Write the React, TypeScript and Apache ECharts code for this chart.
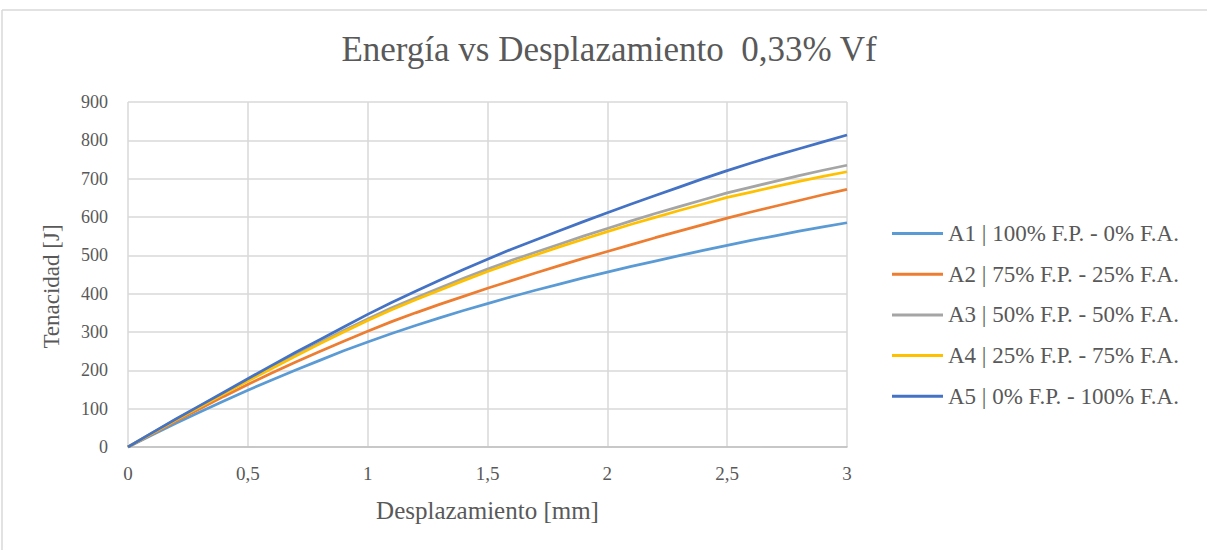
import React, { useEffect, useRef } from "react";
import * as echarts from "echarts";

const displacement = [
  0, 0.1, 0.2, 0.3, 0.4, 0.5, 0.6, 0.7, 0.8, 0.9, 1.0, 1.1, 1.2, 1.3, 1.4, 1.5,
  1.6, 1.7, 1.8, 1.9, 2.0, 2.1, 2.2, 2.3, 2.4, 2.5, 2.6, 2.7, 2.8, 2.9, 3.0,
];

const seriesNames = [
  "A1 | 100% F.P. - 0% F.A.",
  "A2 | 75% F.P. - 25% F.A.",
  "A3 | 50% F.P. - 50% F.A.",
  "A4 | 25% F.P. - 75% F.A.",
  "A5 | 0% F.P. - 100% F.A.",
];

const a1 = [0, 31, 62, 91, 120, 148, 175, 201, 226, 251, 274, 296, 317, 337, 356, 374, 392, 409, 425, 441, 456, 471, 485, 499, 513, 526, 539, 551, 563, 574, 585];
const a2 = [0, 34, 68, 100, 132, 163, 193, 222, 249, 276, 302, 327, 350, 372, 393, 414, 434, 454, 473, 492, 510, 528, 546, 563, 580, 597, 613, 628, 643, 658, 672];
const a3 = [0, 36, 72, 107, 141, 174, 208, 240, 272, 304, 334, 363, 389, 415, 440, 464, 487, 508, 529, 550, 570, 590, 609, 627, 645, 663, 678, 693, 708, 722, 735];
const a4 = [0, 36, 71, 105, 139, 172, 205, 237, 269, 300, 330, 358, 384, 409, 434, 458, 480, 501, 522, 542, 562, 581, 599, 617, 634, 651, 665, 679, 693, 706, 718];
const a5 = [0, 37, 73, 108, 143, 178, 213, 247, 280, 313, 346, 377, 406, 435, 463, 490, 516, 540, 564, 588, 611, 634, 656, 678, 700, 721, 741, 760, 778, 796, 814];

const seriesValues = [a1, a2, a3, a4, a5];
const colors = ["#5B9BD5", "#ED7D31", "#A5A5A5", "#FFC000", "#4472C4"];

const FONT = "'Liberation Serif', 'Times New Roman', serif";
const TXT = "#595959";

export default function App() {
  const ref = useRef<HTMLDivElement>(null);
  useEffect(() => {
    if (!ref.current) return;
    const chart = echarts.init(ref.current, null, { renderer: "svg" });
    const fmt = (v: number) => String(v).replace(".", ",");
    chart.setOption({
      animation: false,
      backgroundColor: "#ffffff",
      textStyle: { fontFamily: FONT, color: TXT },
      title: {
        text: "Energía vs Desplazamiento  0,33% Vf",
        left: 609,
        textAlign: "center",
        top: 32,
        padding: 0,
        textStyle: { fontFamily: FONT, fontSize: 35, fontWeight: "normal", color: TXT },
      },
      graphic: [
        { type: "line", shape: { x1: 2, y1: 10, x2: 1207, y2: 10 }, style: { stroke: "#d9d9d9", lineWidth: 1.5 } },
        { type: "line", shape: { x1: 2, y1: 10, x2: 2, y2: 550 }, style: { stroke: "#d9d9d9", lineWidth: 1.5 } },
      ],
      legend: {
        orient: "vertical",
        left: 892,
        top: 222,
        padding: 0,
        itemGap: 17.7,
        itemWidth: 51,
        itemHeight: 3,
        icon: "rect",
        data: seriesNames,
        textStyle: { fontFamily: FONT, fontSize: 23, lineHeight: 23, color: TXT },
      },
      grid: { left: 128, right: 360, top: 102, bottom: 103, containLabel: false },
      xAxis: {
        type: "value",
        min: 0,
        max: 3,
        interval: 0.5,
        name: "Desplazamiento [mm]",
        nameLocation: "middle",
        nameGap: 51,
        nameTextStyle: { fontFamily: FONT, fontSize: 25, color: TXT },
        axisLine: { show: true, lineStyle: { color: "#bfbfbf", width: 1.5 } },
        axisTick: { show: false },
        axisLabel: { formatter: fmt, fontFamily: FONT, fontSize: 19, color: TXT, margin: 17 },
        splitLine: { show: true, lineStyle: { color: "#d9d9d9", width: 1.5 } },
      },
      yAxis: {
        type: "value",
        min: 0,
        max: 900,
        interval: 100,
        name: "Tenacidad [J]",
        nameLocation: "middle",
        nameGap: 65,
        nameTextStyle: { fontFamily: FONT, fontSize: 23, color: TXT, padding: [0, 24, 0, 0] },
        axisLine: { show: false },
        axisTick: { show: false },
        axisLabel: { fontFamily: FONT, fontSize: 18, color: TXT, margin: 20 },
        splitLine: { show: true, lineStyle: { color: "#d9d9d9", width: 1.5 } },
      },
      series: seriesNames.map((name, i) => ({
        name,
        type: "line",
        data: displacement.map((x, j) => [x, seriesValues[i][j]]),
        showSymbol: false,
        symbol: "none",
        lineStyle: { color: colors[i], width: 2.75 },
        itemStyle: { color: colors[i] },
      })),
    });
    return () => chart.dispose();
  }, []);
  return (
    <div
      ref={ref}
      style={{ position: "fixed", left: 0, top: 0, width: 1207, height: 550, background: "#fff" }}
    />
  );
}
